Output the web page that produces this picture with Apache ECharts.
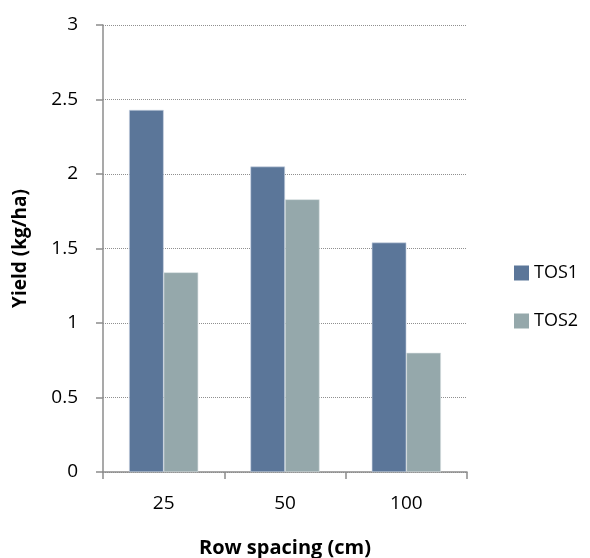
<!DOCTYPE html>
<html>
<head>
<meta charset="utf-8">
<script src="https://cdn.jsdelivr.net/npm/echarts@6/dist/echarts.min.js"></script>
<style>html,body{margin:0;padding:0;background:#fff}#chart{width:590px;height:558px}</style>
</head>
<body>
<div id="chart"></div>
<script>
// Row spacing categories and yield per time of sowing
const categories = ['25', '50', '100'];
const tos1 = [2.43, 2.05, 1.54];
const tos2 = [1.34, 1.83, 0.80];
const yTicks = [0, 0.5, 1, 1.5, 2, 2.5, 3];

const font = 'Open Sans, Liberation Sans, sans-serif';
const chart = echarts.init(document.getElementById('chart'));
chart.setOption({
  animation: false,
  grid: { left: 103, top: 25, width: 364, height: 447, containLabel: false, outerBoundsMode: 'none' },
  legend: {
    orient: 'vertical', left: 509, top: 259, itemGap: 30,
    itemWidth: 15, itemHeight: 15, icon: 'rect',
    itemStyle: { borderWidth: 0 },
    textStyle: { fontFamily: font, fontSize: 18, color: '#000', padding: [0, 0, 0, 0] },
    data: ['TOS1', 'TOS2']
  },
  xAxis: {
    type: 'category', data: categories,
    name: 'Row spacing (cm)', nameLocation: 'middle', nameGap: 66,
    nameTextStyle: { fontFamily: font, fontWeight: 'bold', fontSize: 20, color: '#000' },
    axisLine: { lineStyle: { color: '#8c8c8c', width: 1.5 } },
    axisTick: { show: true, length: 7, lineStyle: { color: '#8c8c8c', width: 1.5 } },
    axisLabel: { fontFamily: font, fontSize: 19, color: '#000', margin: 22 }
  },
  yAxis: {
    type: 'value', min: 0, max: 3, interval: 0.5,
    name: 'Yield (kg/ha)', nameLocation: 'middle', nameGap: 73,
    nameTextStyle: { fontFamily: font, fontWeight: 'bold', fontSize: 19, color: '#000' },
    axisLine: { show: true, lineStyle: { color: '#8c8c8c', width: 1.5 } },
    axisTick: { show: true, length: 7, lineStyle: { color: '#8c8c8c', width: 1.5 } },
    axisLabel: {
      fontFamily: font, fontSize: 19, color: '#000', margin: 25,
      formatter: v => yTicks.includes(v) ? String(v) : ''
    },
    splitLine: { show: true, lineStyle: { color: '#8f8f8f', type: [1, 1], width: 1 } }
  },
  series: [
    { name: 'TOS1', type: 'bar', data: tos1, barGap: '0%', barCategoryGap: '43%',
      itemStyle: { color: '#5b7699', borderColor: '#c9d3e2', borderWidth: 0.6 } },
    { name: 'TOS2', type: 'bar', data: tos2, barGap: '0%', barCategoryGap: '43%',
      itemStyle: { color: '#95a8ab', borderColor: '#d6dfe0', borderWidth: 0.6 } }
  ]
});
</script>
</body>
</html>
